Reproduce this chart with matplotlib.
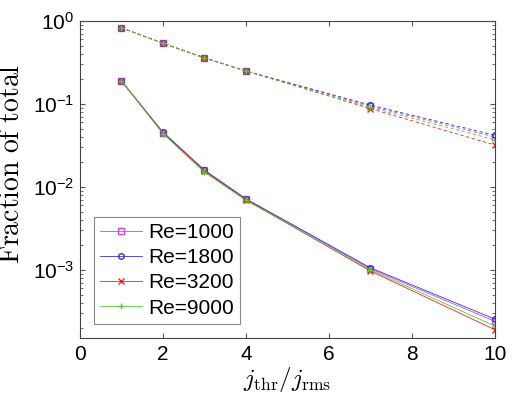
import matplotlib
matplotlib.use("Agg")
import matplotlib.pyplot as plt
from matplotlib.ticker import LogLocator

plt.rcParams['font.family'] = ['Liberation Sans', 'DejaVu Sans']
plt.rcParams['mathtext.fontset'] = 'custom'
plt.rcParams['mathtext.rm'] = 'Liberation Sans'
plt.rcParams['mathtext.it'] = 'Liberation Sans:italic'

# threshold ratio j_thr / j_rms
thr = [1, 2, 3, 4, 7, 10]

labels = ['Re=1000', 'Re=1800', 'Re=3200', 'Re=9000']
colors = ['#cc44ee', '#3333cc', '#ee2222', '#55cc33']
markers = ['s', 'o', 'x', '+']

# dashed curves (upper set)
frac_a_1000 = [0.83, 0.54, 0.36, 0.25, 0.094, 0.040]
frac_a_1800 = [0.83, 0.54, 0.36, 0.25, 0.097, 0.042]
frac_a_3200 = [0.83, 0.54, 0.36, 0.25, 0.088, 0.032]
frac_a_9000 = [0.83, 0.54, 0.36, 0.25, 0.091, 0.037]

# solid curves (lower set)
frac_b_1000 = [0.19, 0.045, 0.0158, 0.0071, 0.00103, 0.00024]
frac_b_1800 = [0.19, 0.046, 0.0160, 0.0072, 0.00106, 0.000255]
frac_b_3200 = [0.19, 0.045, 0.0155, 0.0070, 0.00097, 0.00019]
frac_b_9000 = [0.19, 0.044, 0.0150, 0.0069, 0.00100, 0.00021]

dashed = [frac_a_1000, frac_a_1800, frac_a_3200, frac_a_9000]
solid = [frac_b_1000, frac_b_1800, frac_b_3200, frac_b_9000]

fig = plt.figure(figsize=(5.15, 3.97), dpi=100)
ax = fig.add_axes([0.155, 0.148, 0.806, 0.799])

for lab, c, m, ya, yb in zip(labels, colors, markers, dashed, solid):
    ax.plot(thr, ya, linestyle='--', color=c, marker=m, markersize=4,
            markerfacecolor='none', linewidth=0.6, dashes=(4, 3))
    ax.plot(thr, yb, linestyle='-', color=c, marker=m, markersize=4,
            markerfacecolor='none', linewidth=0.6, label=lab)

ax.set_yscale('log')
ax.set_xlim(0, 10)
ax.set_ylim(1.5e-4, 1)
ax.set_xticks([0, 2, 4, 6, 8, 10])
ax.yaxis.set_major_locator(LogLocator(base=10, numticks=10))
ax.yaxis.set_minor_locator(LogLocator(base=10, subs=range(2, 10), numticks=20))

ax.tick_params(which='both', direction='in', top=True, right=True,
               labelsize=15, color='#555555')
ax.tick_params(axis='x', pad=5)
ax.tick_params(axis='y', pad=4)
for s in ax.spines.values():
    s.set_color('#444444')
    s.set_linewidth(0.8)

ax.set_xlabel(r'$j_{\rm thr}/j_{\rm rms}$', fontsize=18, math_fontfamily='cm')
ax.xaxis.set_label_coords(0.5, -0.083)
ax.set_ylabel(r'$\mathrm{Fraction\ of\ total}$', fontsize=20,
              math_fontfamily='cm')
ax.yaxis.set_label_coords(-0.132, 0.55)

leg = ax.legend(loc='lower left', bbox_to_anchor=(0.034, 0.045), fontsize=15,
                fancybox=False, framealpha=1, edgecolor='#888888',
                handlelength=2.0, handletextpad=0.3, labelspacing=0.3,
                borderpad=0.3, borderaxespad=0)
leg.get_frame().set_linewidth(0.8)

fig.savefig('out.png', dpi=100)
